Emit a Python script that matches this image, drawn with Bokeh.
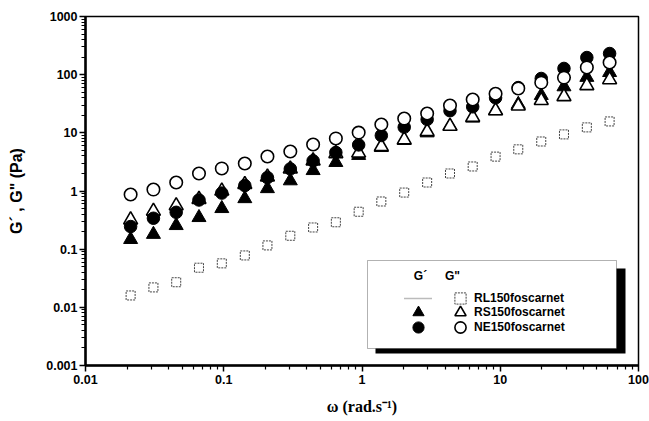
from bokeh.plotting import figure
from bokeh.models import (Legend, LegendItem, BoxAnnotation, Label, FixedTicker,
                          CustomJSTickFormatter)
from bokeh.embed import file_html
from bokeh.resources import INLINE

# angular frequency (rad/s)
omega = [0.0212, 0.0310, 0.0453, 0.0662, 0.0968, 0.142, 0.207, 0.303, 0.443, 0.647, 0.946,
         1.38, 2.02, 2.96, 4.33, 6.32, 9.25, 13.5, 19.8, 28.9, 42.3, 61.8]
# RL150foscarnet G'' (open squares)
rl_g2 = [0.016, 0.022, 0.027, 0.048, 0.057, 0.078, 0.116, 0.17, 0.236, 0.29, 0.44,
         0.66, 0.94, 1.4, 2.0, 2.64, 3.9, 5.2, 7.1, 9.4, 12.4, 15.7]
# RS150foscarnet G' (filled triangles)
rs_g1 = [0.147, 0.18, 0.255, 0.35, 0.50, 0.74, 1.1, 1.5, 2.25, 3.1, 4.1,
         5.6, 7.4, 10, 13, 18, 24, 31, 44, 62, 90, 109]
# RS150foscarnet G'' (open triangles)
rs_g2 = [0.32, 0.45, 0.56, 0.72, 1.0, 1.3, 1.75, 2.4, 3.3, 4.4, 4.5,
         5.8, 7.6, 10.5, 13, 18.5, 24, 29, 36, 42, 65, 82]
# NE150foscarnet G' (filled circles)
ne_g1 = [0.245, 0.34, 0.43, 0.70, 0.92, 1.24, 1.7, 2.4, 3.3, 4.6, 6.2,
         9.0, 12.5, 17, 24, 28, 40, 60, 86, 128, 197, 231]
# NE150foscarnet G'' (open circles)
ne_g2 = [0.87, 1.06, 1.40, 2.0, 2.44, 2.97, 3.92, 4.78, 6.3, 8.0, 10.1,
         13.9, 17.6, 21.5, 29.5, 37.4, 47, 58, 73, 89, 133, 162]
# RL150foscarnet G' : no measurable values shown
rl_g1 = [float("nan")] * len(omega)

series_names = ["RL150foscarnet", "RS150foscarnet", "NE150foscarnet"]
x_ticks = [0.01, 0.1, 1, 10, 100]
y_ticks = [0.001, 0.01, 0.1, 1, 10, 100, 1000]

p = figure(width=649, height=421, x_axis_type="log", y_axis_type="log",
           x_range=(0.01, 100), y_range=(0.001, 1000),
           output_backend="svg", toolbar_location=None,
           min_border_left=85, min_border_right=11, min_border_top=16, min_border_bottom=56)
p.grid.visible = False
p.outline_line_color = "black"
p.outline_line_width = 1.5
p.background_fill_color = "white"
p.border_fill_color = "white"

fmt = CustomJSTickFormatter(code="return String(tick);")
xminor = [m * d for d in [0.01, 0.1, 1, 10] for m in range(2, 10)]
yminor = [m * d for d in [0.001, 0.01, 0.1, 1, 10, 100] for m in range(2, 10)]
p.xaxis.ticker = FixedTicker(ticks=x_ticks, minor_ticks=xminor)
p.yaxis.ticker = FixedTicker(ticks=y_ticks, minor_ticks=yminor)
for ax in (p.xaxis[0], p.yaxis[0]):
    ax.formatter = fmt
    ax.axis_line_width = 2.5
    ax.axis_line_color = "black"
    ax.major_tick_out = 6
    ax.major_tick_in = 0
    ax.minor_tick_out = 4
    ax.minor_tick_in = 0
    ax.major_tick_line_width = 1.5
    ax.minor_tick_line_width = 1.2
    ax.major_label_text_font = "Liberation Sans"
    ax.major_label_text_font_style = "bold"
    ax.major_label_text_font_size = "12.5px"
    ax.major_label_text_color = "black"
    ax.axis_label_text_font_style = "bold"
    ax.axis_label_text_color = "black"

p.xaxis.major_label_standoff = 3
p.yaxis.major_label_standoff = 2
p.xaxis.axis_label = "\u03c9 (rad.s\u207b\u00b9)"
p.xaxis.axis_label_text_font = "Liberation Serif"
p.xaxis.axis_label_text_font_size = "16px"
p.xaxis.axis_label_standoff = 11
p.yaxis.axis_label = "G\u00b4 , G\" (Pa)"
p.yaxis.axis_label_text_font = "Liberation Sans"
p.yaxis.axis_label_text_font_size = "16px"
p.yaxis.axis_label_standoff = 18

# data
r_rl1 = p.line(omega, rl_g1, line_color="#777777", line_width=1.3, line_dash="1 1")
r_rl2 = p.scatter(omega, rl_g2, marker="square", size=9, fill_color="white",
                  line_color="#444444", line_width=1, line_dash="2 1")
r_rs1 = p.scatter(omega, rs_g1, marker="triangle", size=14, fill_color="black", line_color="black")
r_rs2 = p.scatter(omega, rs_g2, marker="triangle", size=14, fill_color="white",
                  line_color="black", line_width=1.6)
r_ne1 = p.scatter(omega, ne_g1, marker="circle", size=12.5, fill_color="black", line_color="black")
r_ne2 = p.scatter(omega, ne_g2, marker="circle", size=12.5, fill_color="white",
                  line_color="black", line_width=1.6)

# legend frame with shadow
sc = dict(left_units="screen", right_units="screen", top_units="screen", bottom_units="screen")
shadow = BoxAnnotation(left=290, right=540, bottom=12, top=97, fill_color="black", fill_alpha=1,
                       line_color=None, **sc)
box = BoxAnnotation(left=282, right=531, bottom=17, top=105, fill_color="white", fill_alpha=1,
                    line_color="black", line_width=1, **sc)
p.add_layout(shadow)
p.add_layout(box)

for txt, xx in (("G\u00b4", 335), ("G\"", 367)):
    p.add_layout(Label(x=xx, y=90, x_units="screen", y_units="screen", text=txt,
                       text_align="center", text_baseline="middle",
                       text_font="Liberation Sans", text_font_style="bold",
                       text_font_size="12px", text_color="black"))

common = dict(glyph_width=28, glyph_height=28, label_height=14, spacing=0, padding=0,
              margin=0, border_line_color=None, background_fill_alpha=0,
              label_text_font="Liberation Sans", label_text_font_style="bold",
              label_text_font_size="12px", label_text_color="black")
row_bottoms = [53, 39, 24]
left_renderers = [r_rl1, r_rs1, r_ne1]
right_renderers = [r_rl2, r_rs2, r_ne2]
for i in range(3):
    p.add_layout(Legend(items=[LegendItem(label=" ", renderers=[left_renderers[i]])],
                        location=(319, row_bottoms[i]), label_width=0, label_standoff=0,
                        **common))
    p.add_layout(Legend(items=[LegendItem(label=series_names[i], renderers=[right_renderers[i]])],
                        location=(361, row_bottoms[i]), label_standoff=0, **common))

open("out.html", "w").write(file_html(p, INLINE))
